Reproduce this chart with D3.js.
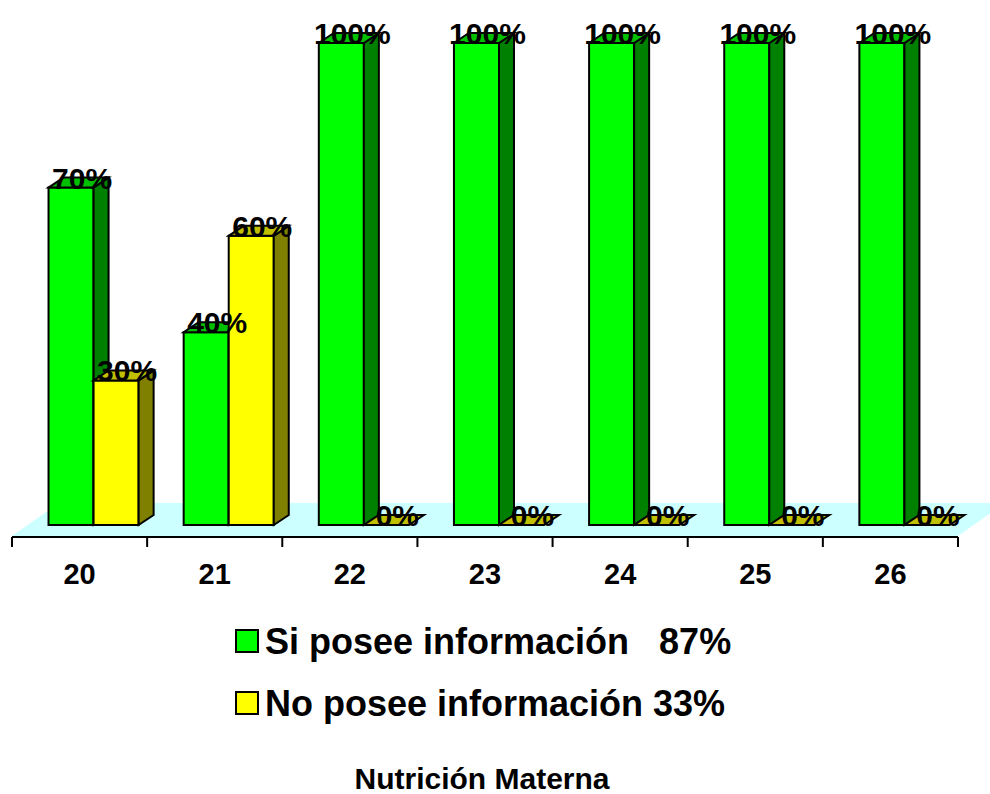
<!DOCTYPE html>
<html>
<head>
<meta charset="utf-8">
<script src="https://cdnjs.cloudflare.com/ajax/libs/d3/7.8.5/d3.min.js"></script>
<style>
  html, body { margin: 0; padding: 0; background: #ffffff; }
  svg { display: block; font-family: Arial, "Liberation Sans", sans-serif; font-weight: bold; }
</style>
</head>
<body>
<svg id="chart" width="990" height="794"></svg>
<script>
// Age groups on the x axis
const categories = ["20", "21", "22", "23", "24", "25", "26"];
// Share of mothers per age group, by whether they have information on maternal nutrition
const siPosee = [0.70, 0.40, 1.00, 1.00, 1.00, 1.00, 1.00];
const noPosee = [0.30, 0.60, 0.00, 0.00, 0.00, 0.00, 0.00];
const seriesNames = ["Si posee información   87%", "No posee información 33%"];
const chartTitle = "Nutrición Materna";

const series = [
  { name: seriesNames[0], values: siPosee, front: "#00ff00", side: "#008000", top: "#00c000" },
  { name: seriesNames[1], values: noPosee, front: "#ffff00", side: "#808000", top: "#c0c000" }
];

const svg = d3.select("#chart");

// Oblique projection offsets for the 3D look
const barShift  = { dx: 14, dy: -11 };  // floor front edge -> bar front face
const barDepth  = { dx: 15, dy: -10 };  // bar front face -> bar back face
const floorDepth = { dx: 47, dy: -33 }; // floor front edge -> floor back edge

const floorY = 536;

const x = d3.scaleBand().domain(categories).range([12, 958]).padding(0);
const xs = d3.scaleBand().domain([0, 1]).range([0, x.bandwidth()]).paddingInner(0).paddingOuter(0.5);
const y = d3.scaleLinear().domain([0, 1]).range([floorY, 54]);

// Floor
svg.append("polygon")
  .attr("points", [
    [x.range()[0], floorY],
    [x.range()[1], floorY],
    [x.range()[1] + floorDepth.dx, floorY + floorDepth.dy],
    [x.range()[0] + floorDepth.dx, floorY + floorDepth.dy]
  ].map(p => p.join(",")).join(" "))
  .attr("fill", "#ccffff");

// Bars, drawn group by group so the neighbouring faces overlap correctly
const bars = svg.append("g").attr("stroke", "#000").attr("stroke-width", 2).attr("stroke-linejoin", "miter");
const labels = [];
categories.forEach((c, i) => {
  series.forEach((s, k) => {
    const v = s.values[i];
    const x0 = x(c) + xs(k) + barShift.dx;
    const x1 = x0 + xs.bandwidth();
    const yb = y(0) + barShift.dy;
    const yt = y(v) + barShift.dy;
    const g = bars.append("g");
    if (v > 0) {
      g.append("polygon").attr("fill", s.front)
        .attr("points", `${x0},${yb} ${x1},${yb} ${x1},${yt} ${x0},${yt}`);
      g.append("polygon").attr("fill", s.side)
        .attr("points", `${x1},${yb} ${x1 + barDepth.dx},${yb + barDepth.dy} ${x1 + barDepth.dx},${yt + barDepth.dy} ${x1},${yt}`);
    }
    g.append("polygon").attr("fill", s.top)
      .attr("points", `${x0},${yt} ${x1},${yt} ${x1 + barDepth.dx},${yt + barDepth.dy} ${x0 + barDepth.dx},${yt + barDepth.dy}`);
    labels.push({ x: (x0 + x1) / 2 + 11, y: yt + 1, text: d3.format(".0%")(v) });
  });
});

// Value labels on top of the bars
svg.append("g").selectAll("text").data(labels).join("text")
  .attr("x", d => d.x).attr("y", d => d.y)
  .attr("text-anchor", "middle")
  .attr("font-size", 30)
  .attr("fill", "#000")
  .text(d => d.text);

// Category axis with ticks at the band boundaries
const axisY = 537;
const axis = svg.append("g").attr("stroke", "#000").attr("stroke-width", 2);
axis.append("line").attr("x1", x.range()[0]).attr("x2", x.range()[1]).attr("y1", axisY).attr("y2", axisY);
const bounds = categories.map(c => x(c)).concat([x.range()[1]]);
axis.selectAll("line.tick").data(bounds).join("line").attr("class", "tick")
  .attr("x1", d => d).attr("x2", d => d).attr("y1", axisY).attr("y2", axisY + 10);

svg.append("g").selectAll("text").data(categories).join("text")
  .attr("x", d => x(d) + x.bandwidth() / 2)
  .attr("y", 584)
  .attr("text-anchor", "middle")
  .attr("font-size", 29)
  .text(d => d);

// Legend
const legend = svg.append("g");
series.forEach((s, k) => {
  const ly = 641 + k * 62;
  legend.append("rect").attr("x", 236).attr("y", ly - 11).attr("width", 22).attr("height", 22)
    .attr("fill", s.front).attr("stroke", "#000").attr("stroke-width", 2);
  legend.append("text").attr("x", 265).attr("y", ly + 13)
    .attr("font-size", 36).attr("xml:space", "preserve").style("white-space", "pre")
    .text(s.name);
});

// Title
svg.append("text").attr("x", 482).attr("y", 789)
  .attr("text-anchor", "middle").attr("font-size", 30)
  .text(chartTitle);
</script>
</body>
</html>
